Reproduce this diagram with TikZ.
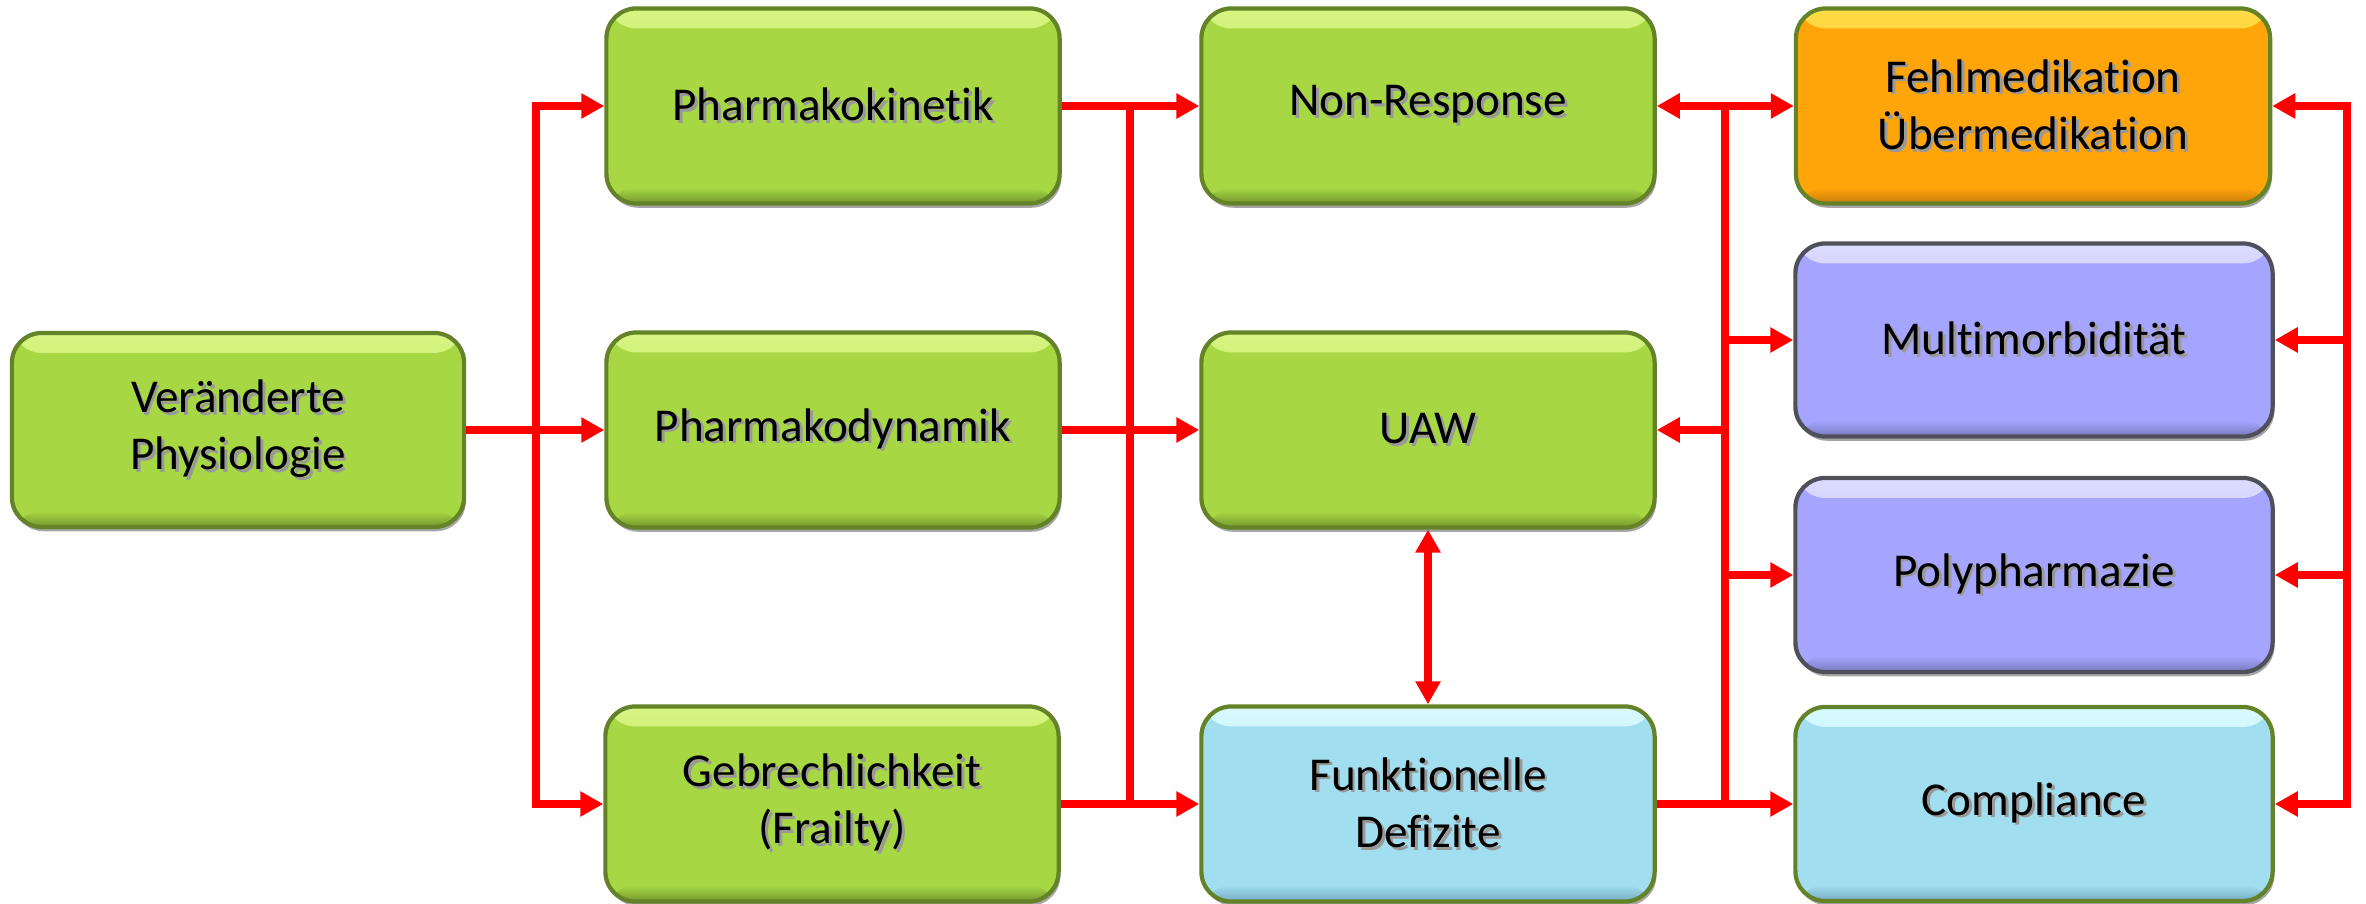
\documentclass[tikz,border=0pt]{standalone}
\usepackage{fontspec}
\setmainfont{Carlito}[Ligatures=NoCommon]
\usetikzlibrary{arrows.meta,shadows}
\definecolor{grn}{RGB}{167,216,67}
\definecolor{grnhi}{RGB}{215,245,130}
\definecolor{grnlo}{RGB}{115,150,45}
\definecolor{grnbd}{RGB}{100,130,40}
\definecolor{orn}{RGB}{255,165,10}
\definecolor{ornhi}{RGB}{255,220,70}
\definecolor{ornlo}{RGB}{200,125,10}
\definecolor{lav}{RGB}{165,165,255}
\definecolor{lavhi}{RGB}{220,220,255}
\definecolor{lavlo}{RGB}{120,120,190}
\definecolor{lavbd}{RGB}{80,80,90}
\definecolor{blu}{RGB}{161,222,240}
\definecolor{bluhi}{RGB}{215,250,255}
\definecolor{blulo}{RGB}{115,170,195}
\definecolor{wirered}{RGB}{255,0,0}
\newcommand\stx[1]{\makebox[0pt][l]{\raisebox{-0.8pt}{\hspace{0.8pt}\textcolor{black!40}{#1}}}#1}
\tikzset{
  bevel/.style n args={4}{draw=#4, line width=1.2pt, fill=#1, rounded corners=0.3cm,
    inner sep=0pt, align=center, text=black,
    font=\fontsize{13.4pt}{16.3pt}\selectfont,
    minimum width=4.53cm, minimum height=1.95cm,
    drop shadow={shadow xshift=0.5pt, shadow yshift=-1.2pt, opacity=0.35, fill=black},
    path picture={
      \fill[top color=#2, bottom color=#1] (path picture bounding box.north west) rectangle ([yshift=-0.2cm]path picture bounding box.north east);
      \fill[top color=#1, bottom color=#3] ([yshift=0.16cm]path picture bounding box.south west) rectangle (path picture bounding box.south east);
    }},
  gbox/.style={bevel={grn}{grnhi}{grnlo}{grnbd}},
  obox/.style={bevel={orn}{ornhi}{ornlo}{grnbd}},
  lbox/.style={bevel={lav}{lavhi}{lavlo}{lavbd}},
  bbox/.style={bevel={blu}{bluhi}{blulo}{grnbd}},
  wire/.style={draw=wirered, line width=2.2pt},
  arr/.style={wire, -{Triangle[length=0.23cm,width=0.24cm]}},
  darr/.style={wire, {Triangle[length=0.23cm,width=0.24cm]}-{Triangle[length=0.23cm,width=0.24cm]}},
}
\begin{document}
\begin{tikzpicture}[x=0.01cm,y=-0.01cm]
\useasboundingbox (0,0) rectangle (2366,904);
% column 1
\node[gbox, minimum width=4.52cm, minimum height=1.94cm] (A) at (238,430) {\stx{Veränderte}\\\stx{Physiologie}};
% column 2
\node[gbox] (pk) at (833,106) {\stx{Pharmakokinetik}};
\node[gbox] (pd) at (833,430) {\stx{Pharmakodynamik}};
\node[gbox] (gb) at (832,804) {\stx{Gebrechlichkeit}\\\stx{(Frailty)}};
% column 3
\node[gbox] (nr) at (1428,106) {\stx{Non-Response}};
\node[gbox] (uaw) at (1428,430) {\stx{UAW}};
\node[bbox] (fd) at (1428,804) {\stx{Funktionelle}\\\stx{Defizite}};
% column 4
\node[obox, minimum width=4.74cm] (fm) at (2033,106) {\stx{Fehlmedikation}\\\stx{Übermedikation}};
\node[lbox, minimum width=4.77cm, minimum height=1.93cm] (mm) at (2034,340) {\stx{Multimorbidität}};
\node[lbox, minimum width=4.77cm, minimum height=1.94cm] (pp) at (2034,575) {\stx{Polypharmazie}};
\node[bbox, minimum width=4.77cm, minimum height=1.94cm] (co) at (2034,804) {\stx{Compliance}};
% left bus
\coordinate (L) at (536,430);
\draw[arr] (A.east) -- (pd.west);
\draw[arr] (L) |- (pk.west);
\draw[arr] (L) |- (gb.west);
% middle bus
\coordinate (M) at (1130,430);
\draw[wire] (M|-pk.east) -- (M|-gb.east);
\draw[arr] (pk.east) -- (nr.west);
\draw[arr] (pd.east) -- (uaw.west);
\draw[arr] (gb.east) -- (fd.west);
% UAW <-> Defizite
\draw[darr] (uaw.south) -- (fd.north);
% right bus
\coordinate (R) at (1725,430);
\draw[wire] (R|-nr.east) -- (R|-fd.east);
\draw[arr] (R|-nr.east) -- (nr.east);
\draw[arr] (R|-fm.west) -- (fm.west);
\draw[arr] (R|-mm.west) -- (mm.west);
\draw[arr] (R|-pp.west) -- (pp.west);
\draw[arr] (R) -- (uaw.east);
\draw[arr] (fd.east) -- (co.west);
% far right bus
\coordinate (F) at (2347,430);
\draw[arr] (F) |- (fm.east);
\draw[arr] (F) |- (co.east);
\draw[arr] (F|-mm.east) -- (mm.east);
\draw[arr] (F|-pp.east) -- (pp.east);
\end{tikzpicture}
\end{document}
